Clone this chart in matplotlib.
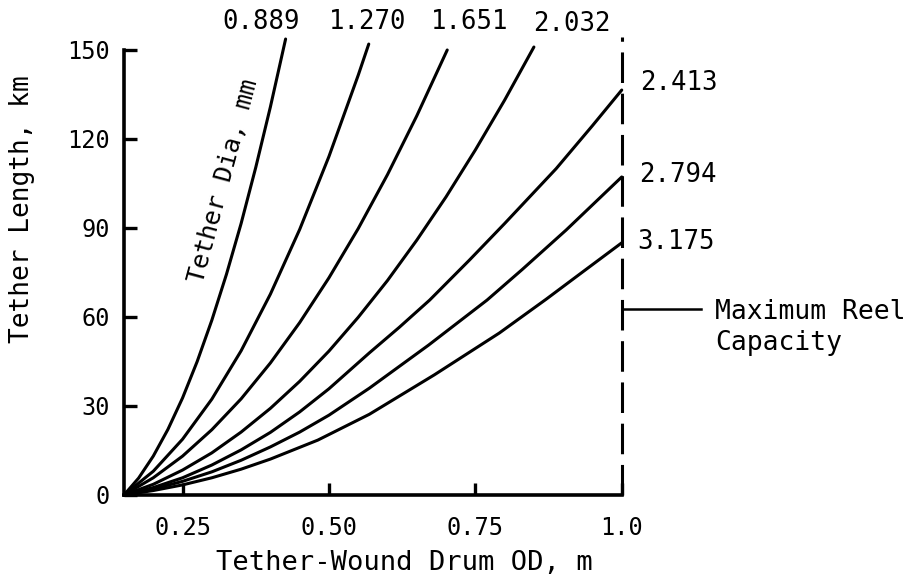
import matplotlib
matplotlib.use("Agg")
import matplotlib.pyplot as plt

# Tether length vs. drum OD, one curve per tether diameter (mm)
tether_dia = ["0.889", "1.270", "1.651", "2.032", "2.413", "2.794", "3.175"]

od_0889 = [0.15, 0.175, 0.20, 0.225, 0.25, 0.275, 0.30, 0.325, 0.35, 0.375, 0.40, 0.426]
len_0889 = [0, 5.7, 13.1, 22.1, 32.7, 45.0, 58.9, 74.4, 91.5, 110.4, 130.8, 153.7]

od_1270 = [0.15, 0.20, 0.25, 0.30, 0.35, 0.40, 0.45, 0.50, 0.55, 0.568]
len_1270 = [0, 8.0, 18.8, 32.3, 48.6, 67.7, 89.5, 114.1, 141.5, 152.0]

od_1651 = [0.15, 0.20, 0.25, 0.30, 0.35, 0.40, 0.45, 0.50, 0.55, 0.60, 0.65, 0.702]
len_1651 = [0, 5.8, 13.1, 22.0, 32.4, 44.5, 58.1, 73.2, 89.8, 108.0, 127.8, 150.0]

od_2032 = [0.15, 0.20, 0.25, 0.30, 0.35, 0.40, 0.45, 0.50, 0.55, 0.60, 0.65, 0.70, 0.75, 0.80, 0.85]
len_2032 = [0, 3.6, 8.4, 14.2, 21.2, 29.2, 38.3, 48.5, 59.9, 72.3, 85.9, 100.5, 116.3, 133.1, 151.0]

od_2413 = [0.15, 0.20, 0.25, 0.30, 0.35, 0.40, 0.45, 0.50, 0.569, 0.62, 0.672, 0.74, 0.80, 0.888, 0.95, 1.0]
len_2413 = [0, 2.5, 5.8, 10.1, 15.2, 21.1, 28.0, 35.8, 47.9, 56.5, 65.7, 79.2, 91.5, 110.0, 124.5, 136.5]

od_2794 = [0.15, 0.20, 0.25, 0.30, 0.35, 0.40, 0.45, 0.50, 0.569, 0.67, 0.77, 0.83, 0.905, 1.0]
len_2794 = [0, 2.0, 4.6, 7.8, 11.7, 16.2, 21.2, 26.9, 36.0, 50.5, 65.7, 76.0, 89.3, 107.2]

od_3175 = [0.15, 0.20, 0.25, 0.30, 0.35, 0.40, 0.481, 0.569, 0.68, 0.791, 0.871, 0.932, 1.0]
len_3175 = [0, 1.5, 3.4, 5.8, 8.7, 12.1, 18.5, 27.2, 40.5, 54.6, 66.0, 75.0, 85.0]

curves = [(od_0889, len_0889), (od_1270, len_1270), (od_1651, len_1651),
          (od_2032, len_2032), (od_2413, len_2413), (od_2794, len_2794),
          (od_3175, len_3175)]

x_ticks = [0.25, 0.50, 0.75, 1.0]
x_tick_labels = ["0.25", "0.50", "0.75", "1.0"]
y_ticks = [0, 30, 60, 90, 120, 150]

# where each diameter label sits (data coords)
label_pos = [(0.385, 159.5, "center"), (0.566, 159.5, "center"), (0.741, 159.5, "center"),
             (0.915, 158.8, "center"), (1.032, 138.8, "left"), (1.030, 107.8, "left"),
             (1.026, 85.3, "left")]

reel_od = 1.0
reel_top = 154.5

plt.rcParams['font.family'] = ['DejaVu Sans Mono']

fig = plt.figure(figsize=(9.05, 5.82), dpi=100)
ax = fig.add_axes([0.137, 0.1495, 0.550, 0.7646])

for (xs, ys) in curves:
    ax.plot(xs, ys, color='black', linewidth=2.2, clip_on=False, solid_capstyle='round')

# reel capacity limit
ax.plot([reel_od, reel_od], [0, reel_top], color='black', linewidth=2.2,
        linestyle=(0, (10, 3.5)), clip_on=False)
ax.plot([reel_od, 1.135], [62.7, 62.7], color='black', linewidth=1.8, clip_on=False)
ax.text(1.160, 61.7, "Maximum Reel", fontsize=19, va='center', ha='left')
ax.text(1.160, 51.2, "Capacity", fontsize=19, va='center', ha='left')

for (name, (lx, ly, ha)) in zip(tether_dia, label_pos):
    ax.text(lx, ly, name, fontsize=18.5, ha=ha, va='center')

ax.text(0.320, 106, "Tether Dia, mm", fontsize=18, rotation=75,
        ha='center', va='center', rotation_mode='anchor')

ax.set_xlim(0.15, 1.0)
ax.set_ylim(0, 150)
ax.set_xticks(x_ticks)
ax.set_xticklabels(x_tick_labels)
ax.set_yticks(y_ticks)

for side in ['top', 'right']:
    ax.spines[side].set_visible(False)
for side in ['left', 'bottom']:
    ax.spines[side].set_linewidth(2.6)

ax.tick_params(axis='both', direction='in', width=2.4, length=9, labelsize=17)
ax.tick_params(axis='x', pad=15)
ax.tick_params(axis='y', pad=10)

fig.text(22 / 905, 1 - 209 / 582, "Tether Length, km", rotation=90, fontsize=18.8,
         ha='center', va='center')
fig.text(404 / 905, 1 - 563 / 582, "Tether-Wound Drum OD, m", fontsize=19.5,
         ha='center', va='center')

fig.savefig("out.png", dpi=100)
